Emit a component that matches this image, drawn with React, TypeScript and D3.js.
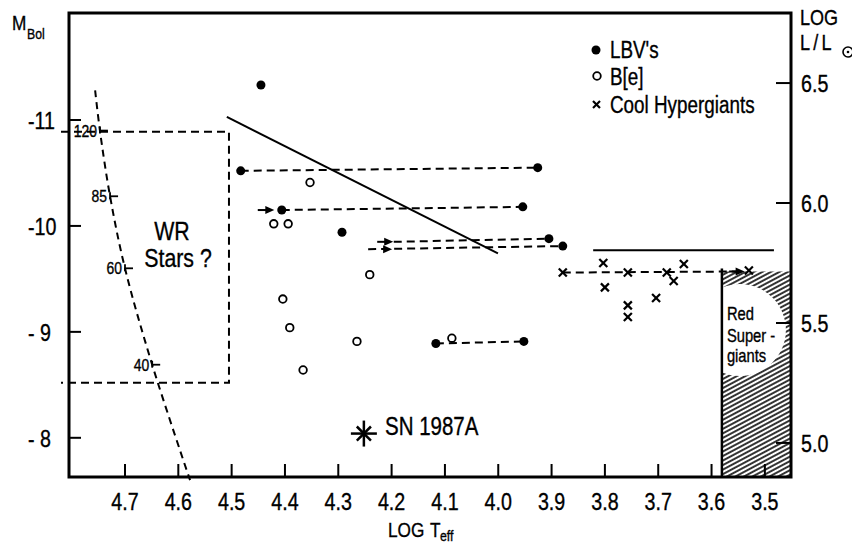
import React from 'react';
import * as d3 from 'd3';

const W = 852;
const H = 545;
const FONT = "'Liberation Sans', Arial, sans-serif";
const SX = 0.82; // narrow letterform

// ---- axes ----
const teffTicks = [4.7, 4.6, 4.5, 4.4, 4.3, 4.2, 4.1, 4.0, 3.9, 3.8, 3.7, 3.6, 3.5];
const teffTickLabels = ['4.7', '4.6', '4.5', '4.4', '4.3', '4.2', '4.1', '4.0', '3.9', '3.8', '3.7', '3.6', '3.5'];
const mbolTicks = [-11, -10, -9, -8];
const mbolTickLabels = ['-11', '-10', '- 9', '- 8'];
const logLTicks = [6.5, 6.0, 5.5, 5.0];
const logLTickLabels = ['6.5', '6.0', '5.5', '5.0'];

// ---- LBV's (filled circles) ----
const lbvTeff = [4.445, 4.483, 3.926, 4.406, 3.954, 4.293, 3.905, 3.879, 4.117, 3.952];
const lbvMbol = [-11.33, -10.52, -10.55, -10.15, -10.18, -9.94, -9.88, -9.81, -8.89, -8.91];

// ---- B[e] (open circles) ----
const beTeff = [4.353, 4.421, 4.394, 4.241, 4.404, 4.391, 4.265, 4.366, 4.087];
const beMbol = [-10.41, -10.02, -10.02, -9.54, -9.31, -9.04, -8.91, -8.64, -8.94];

// ---- Cool hypergiants (crosses) ----
const chgTeff = [3.879, 3.803, 3.8, 3.757, 3.757, 3.757, 3.704, 3.684, 3.671, 3.652, 3.53];
const chgMbol = [-9.56, -9.65, -9.42, -9.56, -9.25, -9.14, -9.32, -9.56, -9.48, -9.64, -9.58];

// ---- dashed excursion lines ----
const excFromTeff = [4.483, 4.406, 4.196, 4.244, 4.117, 3.879];
const excFromMbol = [-10.52, -10.15, -9.85, -9.78, -8.89, -9.56];
const excToTeff = [3.926, 3.954, 3.905, 3.879, 3.952, 3.543];
const excToMbol = [-10.55, -10.18, -9.88, -9.81, -8.91, -9.57];

// ---- arrows: from teff1 to teff2 at mbol ----
const arrowFromTeff = [4.451, 4.227, 4.215, 3.567];
const arrowToTeff = [4.42, 4.197, 4.199, 3.538];
const arrowMbol = [-10.15, -9.85, -9.78, -9.57];

// ---- Humphreys-Davidson limit ----
const hdTeff = [4.509, 4.0006];
const hdMbol = [-11.03, -9.74];
const hdFlatTeff = [3.822, 3.483];
const hdFlatMbol = [-9.77, -9.77];

// ---- WR box ----
const wrBoxTeff = [4.82, 4.505, 4.505, 4.82];
const wrBoxMbol = [-10.89, -10.89, -8.52, -8.52];

// ---- ZAMS mass track ----
const trackTeff = [4.756, 4.747, 4.728, 4.7, 4.649, 4.578];
const trackMbol = [-11.28, -10.9, -10.28, -9.6, -8.69, -7.6];
const trackMassIdx = [1, 2, 3, 4];
const trackMassLabels = ['120', '85', '60', '40'];

// ---- SN 1987A ----
const snTeff = 4.252;
const snMbol = -8.04;

// ---- Red supergiant region ----
const rsgTeffLeft = 3.5806;
const rsgMbolTop = -9.57;

type TP = { x: number; y: number; size: number; anchor?: 'start' | 'middle' | 'end'; children: React.ReactNode; sx?: number; ls?: number };
function T({ x, y, size, anchor = 'start', children, sx = SX, ls = 0 }: TP) {
  return (
    <text transform={`translate(${x},${y}) scale(${sx},1)`} fontSize={size} textAnchor={anchor}
      stroke="#000" strokeWidth={0.35} letterSpacing={ls}>
      {children}
    </text>
  );
}

export default function App() {
  const x = d3.scaleLinear().domain([4.805, 3.451]).range([69, 791]);
  const yM = d3.scaleLinear().domain([-12.01, -7.63]).range([13, 477]);
  const yL = d3.scaleLinear().domain([6.792, 4.858]).range([13, 477]);

  const left = 69, right = 791, top = 13, bottom = 477;

  const trackPts: [number, number][] = trackTeff.map((t, i) => [x(t), yM(trackMbol[i])]);
  const trackLine = d3.line().curve(d3.curveCatmullRom.alpha(0.5))(trackPts) || '';
  const wrPath = d3.line()(wrBoxTeff.map((t, i) => [x(t), yM(wrBoxMbol[i])] as [number, number])) || '';

  const rsgX = x(rsgTeffLeft);
  const rsgY = yM(rsgMbolTop);

  const dash = '8 5';

  return (
    <svg width={W} height={H} style={{ position: 'absolute', left: 0, top: 0, background: '#fff' }} fontFamily={FONT}>
      <defs>
        <pattern id="hatch" patternUnits="userSpaceOnUse" width="10" height="4" patternTransform="rotate(-28)">
          <line x1="0" y1="2" x2="10" y2="2" stroke="#000" strokeWidth="1.6" />
        </pattern>
        <clipPath id="rsgClip">
          <rect x={rsgX} y={rsgY} width={right - rsgX} height={bottom - rsgY} />
        </clipPath>
      </defs>
      <rect x={0} y={0} width={W} height={H} fill="#fff" />

      {/* Red supergiant hatched region */}
      <rect x={rsgX} y={rsgY} width={right - rsgX} height={bottom - rsgY} fill="url(#hatch)" />
      <ellipse cx={rsgX + 18} cy={330} rx={46} ry={46} fill="#fff" clipPath="url(#rsgClip)" />
      <line x1={rsgX} y1={rsgY - 3} x2={rsgX} y2={bottom} stroke="#000" strokeWidth={2.5} />
      <T x={rsgX + 5} y={320} size={18}>Red</T>
      <T x={rsgX + 5} y={342} size={18}>Super -</T>
      <T x={rsgX + 5} y={362} size={18}>giants</T>

      {/* Frame */}
      <rect x={left} y={top} width={right - left} height={bottom - top} fill="none" stroke="#000" strokeWidth={3} />

      {/* Bottom ticks */}
      {teffTicks.map((t, i) => (
        <g key={'tx' + i}>
          <line x1={x(t)} y1={bottom} x2={x(t)} y2={bottom - 13} stroke="#000" strokeWidth={2} />
          <T x={x(t)} y={510} size={24} anchor="middle">{teffTickLabels[i]}</T>
        </g>
      ))}
      {/* Left ticks */}
      {mbolTicks.map((m, i) => (
        <g key={'ty' + i}>
          <line x1={left} y1={yM(m)} x2={left + 12} y2={yM(m)} stroke="#000" strokeWidth={2} />
          <T x={28} y={yM(m) + 9} size={24}>{mbolTickLabels[i]}</T>
        </g>
      ))}
      {/* Right ticks */}
      {logLTicks.map((l, i) => (
        <g key={'tl' + i}>
          <line x1={right} y1={yL(l)} x2={right - 15} y2={yL(l)} stroke="#000" strokeWidth={2} />
          <T x={801} y={yL(l) + 9} size={24}>{logLTickLabels[i]}</T>
        </g>
      ))}

      {/* Axis titles */}
      <T x={12} y={30} size={21}>M</T>
      <T x={27} y={39} size={15}>Bol</T>
      <T x={800} y={25} size={22}>LOG</T>
      <T x={800} y={50} size={22} ls={4}>L/L</T>
      <circle cx={848} cy={52} r={5} fill="none" stroke="#000" strokeWidth={1.6} />
      <circle cx={848} cy={52} r={1.3} fill="#000" />
      <T x={388} y={537} size={21}>LOG</T>
      <T x={430} y={537} size={21}>T</T>
      <T x={440} y={541} size={15}>eff</T>

      {/* WR box */}
      <path d={wrPath} fill="none" stroke="#000" strokeWidth={2} strokeDasharray={dash} />
      <T x={172} y={240} size={26} anchor="middle">WR</T>
      <T x={178} y={267} size={26} anchor="middle">Stars ?</T>

      {/* Mass track */}
      <path d={trackLine} fill="none" stroke="#000" strokeWidth={2} strokeDasharray="7 5" />
      {trackMassIdx.map((idx, i) => {
        const [px, py] = trackPts[idx];
        return (
          <g key={'m' + i}>
            <line x1={px} y1={py - 4} x2={px} y2={py + 3} stroke="#000" strokeWidth={1.8} />
            <line x1={px} y1={py} x2={px + 8} y2={py} stroke="#000" strokeWidth={1.8} />
            <T x={px - 3} y={py + 6} size={17} anchor="end">{trackMassLabels[i]}</T>
          </g>
        );
      })}

      {/* HD limit */}
      <line x1={x(hdTeff[0])} y1={yM(hdMbol[0])} x2={x(hdTeff[1])} y2={yM(hdMbol[1])} stroke="#000" strokeWidth={2} />
      <line x1={x(hdFlatTeff[0])} y1={yM(hdFlatMbol[0])} x2={x(hdFlatTeff[1])} y2={yM(hdFlatMbol[1])} stroke="#000" strokeWidth={2} />

      {/* Excursion lines */}
      {excFromTeff.map((t, i) => (
        <line key={'e' + i} x1={x(t)} y1={yM(excFromMbol[i])} x2={x(excToTeff[i])} y2={yM(excToMbol[i])}
          stroke="#000" strokeWidth={2} strokeDasharray={dash} />
      ))}
      {/* Arrows */}
      {arrowFromTeff.map((t, i) => {
        const x1 = x(t), x2 = x(arrowToTeff[i]), yy = yM(arrowMbol[i]);
        return (
          <g key={'a' + i}>
            <line x1={x1} y1={yy} x2={x2 - 6} y2={yy} stroke="#000" strokeWidth={2} />
            <polygon points={`${x2},${yy} ${x2 - 9},${yy - 4} ${x2 - 9},${yy + 4}`} fill="#000" />
          </g>
        );
      })}

      {/* LBV's */}
      {lbvTeff.map((t, i) => (
        <circle key={'l' + i} cx={x(t)} cy={yM(lbvMbol[i])} r={4.5} fill="#000" />
      ))}
      {/* B[e] */}
      {beTeff.map((t, i) => (
        <circle key={'b' + i} cx={x(t)} cy={yM(beMbol[i])} r={3.8} fill="#fff" stroke="#000" strokeWidth={1.8} />
      ))}
      {/* Cool hypergiants */}
      {chgTeff.map((t, i) => {
        const cx = x(t), cy = yM(chgMbol[i]), s = 4;
        return (
          <g key={'c' + i} stroke="#000" strokeWidth={2.2}>
            <line x1={cx - s} y1={cy - s} x2={cx + s} y2={cy + s} />
            <line x1={cx - s} y1={cy + s} x2={cx + s} y2={cy - s} />
          </g>
        );
      })}

      {/* SN 1987A */}
      {[0, 45, 90, 135].map((a) => {
        const cx = x(snTeff), cy = yM(snMbol);
        const r = a % 90 === 0 ? 13 : 10;
        const rad = (a * Math.PI) / 180;
        return (
          <line key={'sn' + a} x1={cx - r * Math.cos(rad)} y1={cy - r * Math.sin(rad)}
            x2={cx + r * Math.cos(rad)} y2={cy + r * Math.sin(rad)} stroke="#000" strokeWidth={2.5} />
        );
      })}
      <T x={385} y={435} size={25}>SN 1987A</T>

      {/* Legend */}
      <circle cx={596} cy={50} r={4.5} fill="#000" />
      <T x={610} y={58} size={23}>LBV's</T>
      <circle cx={597} cy={76} r={3.8} fill="#fff" stroke="#000" strokeWidth={1.8} />
      <T x={610} y={85} size={23}>B[e]</T>
      <g stroke="#000" strokeWidth={2.2}>
        <line x1={593} y1={101} x2={600} y2={108} />
        <line x1={593} y1={108} x2={600} y2={101} />
      </g>
      <T x={610} y={113} size={23}>Cool Hypergiants</T>
    </svg>
  );
}
